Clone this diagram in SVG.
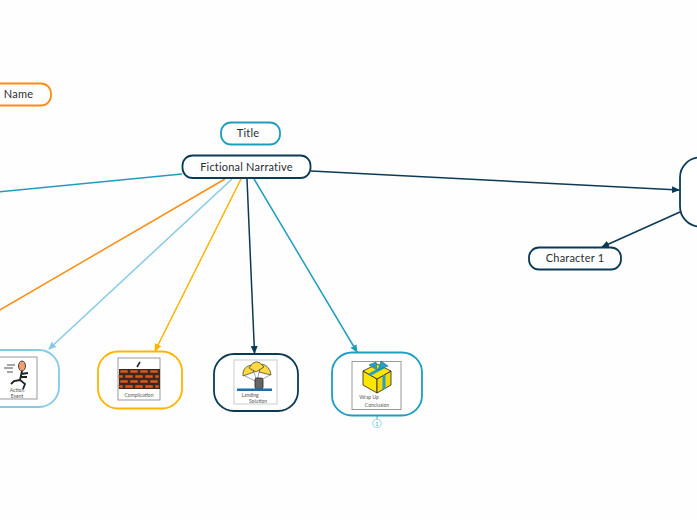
<svg xmlns="http://www.w3.org/2000/svg" width="697" height="520" viewBox="0 0 697 520">
<style>
text{font-family:"Lato","Noto Sans",sans-serif;fill:#2b2b33;text-anchor:middle}
.l{font-size:11px;letter-spacing:.2px}
.t{font-size:5px;fill:#555;letter-spacing:0}
.n{fill:#fff;stroke-width:1.8}
.c{fill:none;stroke-width:1.5}
.pic{fill:#fff;stroke:#999;stroke-width:1}
.dark{stroke:#0b3a55}.teal{stroke:#1f9dc0}.or{stroke:#ff8c12}.lb{stroke:#86cae6}.ye{stroke:#ffb400}
.brick{fill:#e0561c;stroke:#3a2a20;stroke-width:.5}
</style>
<defs>
<marker id="ad" markerWidth="8" markerHeight="8" refX="7" refY="4" orient="auto" markerUnits="userSpaceOnUse"><path d="M0,0.5L8,4L0,7.500z" fill="#0b3a55"/></marker>
<marker id="at" markerWidth="8" markerHeight="8" refX="7" refY="4" orient="auto" markerUnits="userSpaceOnUse"><path d="M0,0.5L8,4L0,7.500z" fill="#1f9dc0"/></marker>
<marker id="al" markerWidth="8" markerHeight="8" refX="7" refY="4" orient="auto" markerUnits="userSpaceOnUse"><path d="M0,0.5L8,4L0,7.500z" fill="#86cae6"/></marker>
<marker id="ay" markerWidth="8" markerHeight="8" refX="7" refY="4" orient="auto" markerUnits="userSpaceOnUse"><path d="M0,0.5L8,4L0,7.500z" fill="#ffb400"/></marker>
</defs>
<rect width="697" height="520" fill="#fefefe"/>
<g id="connectors">
<path class="c teal" d="M182,174L-2,192"/>
<path class="c or" d="M225,179L-2,311"/>
<path class="c lb" d="M232,179L49,349" marker-end="url(#al)"/>
<path class="c ye" d="M241,179L155,351" marker-end="url(#ay)"/>
<path class="c dark" d="M247,179L254.500,353" marker-end="url(#ad)"/>
<path class="c teal" d="M254,179L357,352" marker-end="url(#at)"/>
<path class="c dark" d="M311,171L679,190" marker-end="url(#ad)"/>
<path class="c dark" d="M680,212L602,247" marker-end="url(#ad)"/>
</g>
<g id="node-name"><rect class="n or" x="-20" y="83.500" width="71" height="22" rx="10"/><text class="l" x="18.500" y="98">Name</text></g>
<g id="node-title"><rect class="n teal" x="221" y="122.500" width="59" height="22" rx="10"/><text class="l" x="248" y="137">Title</text></g>
<g id="node-fictional"><rect class="n dark" x="182.500" y="155.500" width="128" height="22.500" rx="10"/><text class="l" x="246.500" y="171">Fictional Narrative</text></g>
<g id="node-right"><rect class="n dark" x="680" y="157.500" width="60" height="69" rx="20"/></g>
<g id="node-character"><rect class="n dark" x="529" y="247.500" width="92" height="22" rx="10"/><text class="l" x="575" y="262">Character 1</text></g>
<g id="node-action">
<rect class="n lb" x="-30" y="350" width="89" height="57" rx="20"/>
<rect class="pic" x="-6" y="357" width="43" height="42"/>
<ellipse cx="22" cy="366" rx="3.500" ry="5" fill="#f0a070" stroke="#222" stroke-width=".8"/>
<path d="M22,371L20,380L25,384L23,389M20,380L14,381L11,384M21,374L28,373M21,377L27,377" fill="none" stroke="#222" stroke-width="1.800"/>
<path d="M7,365H15M4,368H13M7,372H13" stroke="#222" stroke-width=".8"/>
<text class="t" x="17" y="392">Action</text><text class="t" x="17" y="398">Event</text>
</g>
<g id="node-complication">
<rect class="n ye" x="98" y="351.500" width="84" height="57" rx="20"/>
<rect class="pic" x="118" y="358" width="42" height="42"/>
<path d="M140,362L137,367" stroke="#222" stroke-width="1.500"/>
<rect x="119" y="369" width="41" height="20" fill="#3a2a20"/>
<g class="brick">
<rect x="120" y="370" width="8" height="3"/><rect x="130" y="370" width="8" height="3"/><rect x="140" y="370" width="8" height="3"/><rect x="150" y="370" width="8" height="3"/>
<rect x="119" y="375" width="4" height="3"/><rect x="125" y="375" width="8" height="3"/><rect x="135" y="375" width="8" height="3"/><rect x="145" y="375" width="8" height="3"/><rect x="155" y="375" width="4" height="3"/>
<rect x="120" y="380" width="8" height="3"/><rect x="130" y="380" width="8" height="3"/><rect x="140" y="380" width="8" height="3"/><rect x="150" y="380" width="8" height="3"/>
<rect x="119" y="385" width="4" height="3"/><rect x="125" y="385" width="8" height="3"/><rect x="135" y="385" width="8" height="3"/><rect x="145" y="385" width="8" height="3"/><rect x="155" y="385" width="4" height="3"/>
</g>
<text class="t" x="139" y="397">Complication</text>
</g>
<g id="node-landing">
<rect class="n dark" x="214" y="354" width="84" height="57" rx="20"/>
<rect class="pic" x="234" y="360" width="43" height="44" style="stroke:#ccc"/>
<path d="M243,376Q242,367 251,365L254,372z" fill="#ffd940" stroke="#333" stroke-width=".7"/>
<path d="M271,375Q270,366 262,364L259,372z" fill="#ffd940" stroke="#333" stroke-width=".7"/>
<path d="M249,368Q256,356 264,367L256,372z" fill="#ffd940" stroke="#333" stroke-width=".7"/>
<path d="M245,376L257,382M254,372L257,382M259,372L257,382M270,375L257,382" stroke="#444" stroke-width=".5"/>
<rect x="255" y="378" width="8" height="11" rx="2" fill="#666" stroke="#222" stroke-width=".8"/>
<rect x="237" y="388.500" width="35" height="2.500" fill="#1f6fb0"/>
<text class="t" x="250" y="397">Landing</text><text class="t" x="258" y="403">Solution</text>
</g>
<g id="node-wrapup">
<rect class="n teal" x="332" y="352.500" width="90" height="63" rx="20"/>
<rect class="pic" x="352" y="361.500" width="49" height="48"/>
<path d="M363,371L377,379V393L363,385z" fill="#ffe600" stroke="#222" stroke-width=".8"/>
<path d="M377,379L391,371V385L377,393z" fill="#f4d800" stroke="#222" stroke-width=".8"/>
<path d="M363,371L377,364L391,371L377,379z" fill="#ffe600" stroke="#222" stroke-width=".8"/>
<path d="M369,375L384,367M384,375V389" stroke="#2a9fc0" stroke-width="3" fill="none"/>
<path d="M377,370L369,365L376,362ZM378,370L381,361L388,366Z" fill="#2a9fc0" stroke="#1b7f9c" stroke-width=".7"/>
<text class="t" x="369" y="399">Wrap Up</text><text class="t" x="377" y="406.500">Conclusion</text>
<g id="badge"><path d="M377,415V419" class="c teal" style="stroke-width:.8"/><circle cx="377" cy="423.500" r="4.300" fill="#fff" stroke="#7cc8de" stroke-width=".8"/><text x="377" y="425.500" style="font-size:5px;fill:#2a9fc0">1</text></g>
</g>
</svg>
